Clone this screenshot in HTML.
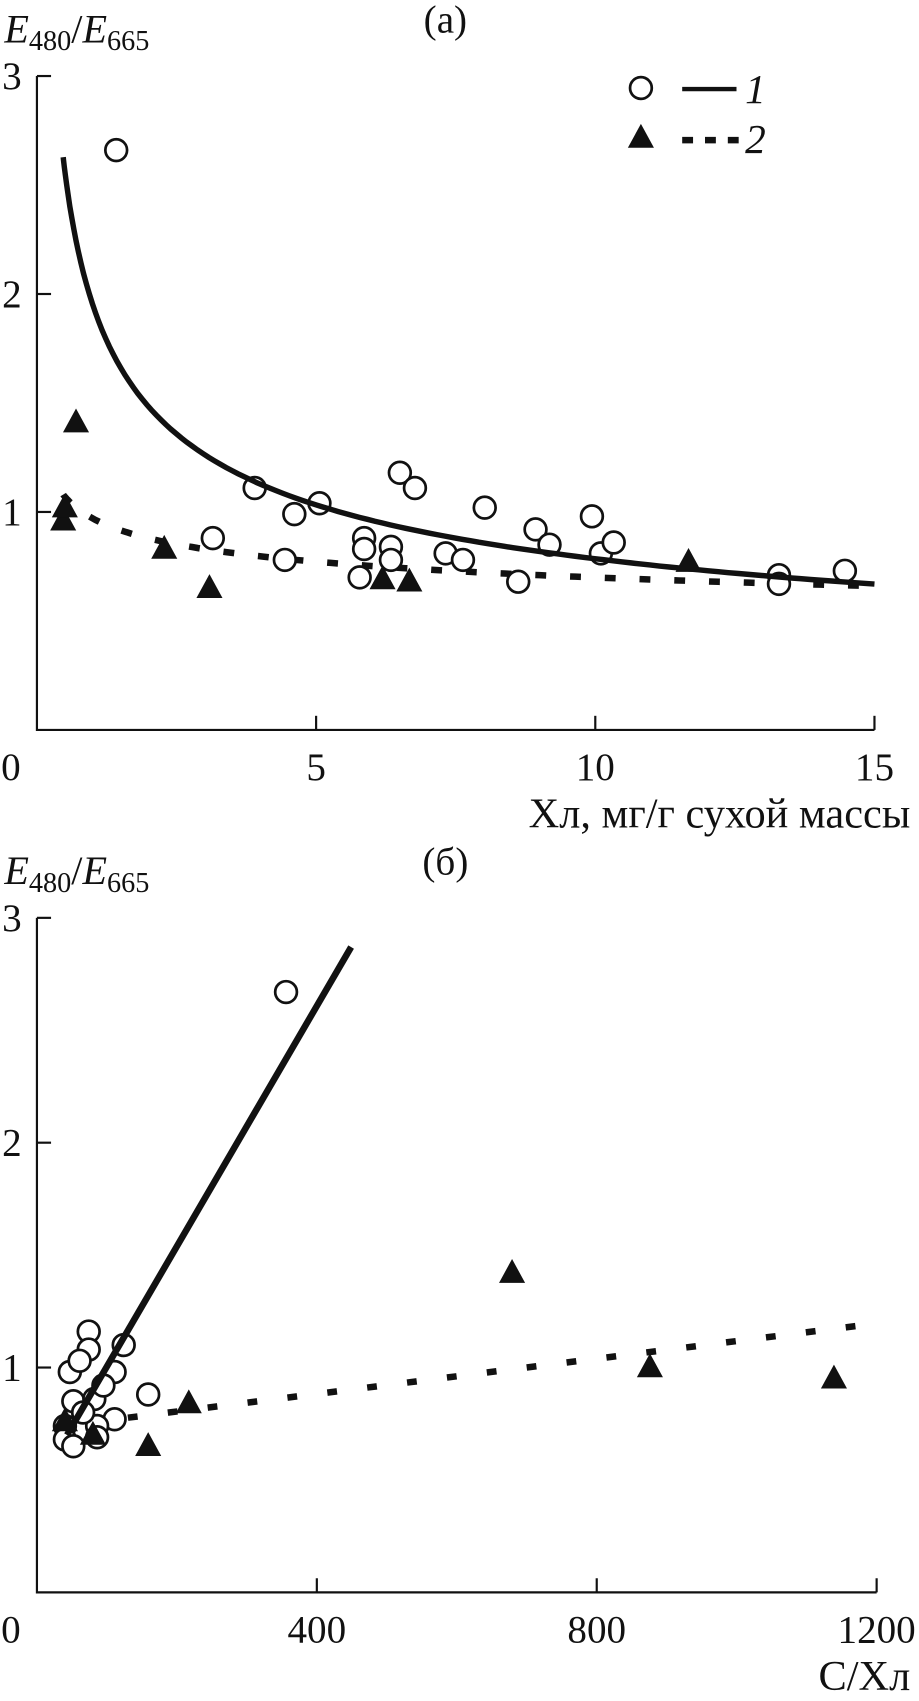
<!DOCTYPE html>
<html><head><meta charset="utf-8"><style>
html,body{margin:0;padding:0;background:#fff}
svg{display:block}
text{font-family:"Liberation Serif",serif;fill:#111}
</style></head><body>
<svg id="chart" width="919" height="1701" viewBox="0 0 846 1566" preserveAspectRatio="none" xmlns="http://www.w3.org/2000/svg">
<g id="pa"></g>
<g id="pb"></g>
</svg>
<script>
// Panel (a) data
const aCircX = [1.42,3.9,3.15,4.44,4.61,5.06,5.86,5.86,5.78,6.34,6.34,6.5,6.77,7.32,7.63,8.02,8.62,8.93,9.18,9.94,10.1,10.33,13.29,13.29,14.47];
const aCircY = [2.66,1.11,0.88,0.78,0.99,1.04,0.88,0.83,0.70,0.84,0.78,1.18,1.11,0.81,0.78,1.02,0.68,0.92,0.85,0.98,0.81,0.86,0.71,0.67,0.73];
const aTriX = [0.47,0.5,0.7,2.28,3.09,6.19,6.67,11.67];
const aTriY = [0.96,1.02,1.41,0.83,0.65,0.69,0.68,0.77];
const aFit1 = [1.95,-0.395]; // y = a*x^b
const aFit2 = [0.97,-0.142];
const aFitRange = [0.47,15];
const aXTicks = [0,5,10,15];
const aYTicks = [1,2,3];
// Panel (b) data
const bCircX = [356,74,74,124,47,61,111,52,82,159,111,40,86,40,52,86,66,95];
const bCircY = [2.67,1.16,1.08,1.10,0.98,1.03,0.98,0.85,0.86,0.88,0.77,0.74,0.74,0.68,0.65,0.69,0.80,0.92];
const bTriX = [40,80,159,217,679,876,1139];
const bTriY = [0.76,0.70,0.65,0.84,1.42,1.00,0.95];
const bLine1 = [43,0.70,449,2.87];
const bLine2 = [130,0.777,1200,1.196];
const bXTicks = [0,400,800,1200];
const bYTicks = [1,2,3];

const NS="http://www.w3.org/2000/svg";
function mk(tag,attrs,parent,txt){const e=document.createElementNS(NS,tag);for(const k in attrs)e.setAttribute(k,attrs[k]);if(txt!==undefined)e.textContent=txt;parent.appendChild(e);return e;}

function panel(g,o){
  const sx=v=>o.x0+(v-o.xmin)/(o.xmax-o.xmin)*(o.x1-o.x0);
  const sy=v=>o.y0-v/o.ymax*(o.y0-o.y1);
  const ax=mk('path',{d:`M${o.x0} ${sy(o.ymax)} V${o.y0} H${sx(o.xmax)}`,stroke:'#111','stroke-width':2,fill:'none'},g);
   
  o.yt.forEach(v=>{const t=mk('line',{x1:o.x0,x2:o.x0+13,y1:sy(v),y2:sy(v),stroke:'#111','stroke-width':2},g);
     
    const l=mk('text',{x:o.x0-23,y:sy(v)+12,'font-size':36,'text-anchor':'middle'},g,String(v));
     });
  o.xt.forEach(v=>{ if(v!==o.xmin){const t=mk('line',{x1:sx(v),x2:sx(v),y1:o.y0,y2:o.y0-13,stroke:'#111','stroke-width':2},g);
     }
    const l=mk('text',{x:v===o.xmin?10:sx(v),y:o.y0+46,'font-size':36,'text-anchor':'middle'},g,String(v));
     });
  const yl=mk('text',{x:4,y:o.y1-31,'font-size':37},g);
   
  yl.innerHTML='<tspan font-style="italic">E</tspan><tspan font-size="26" dy="7">480</tspan><tspan dy="-7">/</tspan><tspan font-style="italic">E</tspan><tspan font-size="26" dy="7">665</tspan>';
  const pt=mk('text',{x:410,y:o.y1-40,'font-size':36,'text-anchor':'middle'},g,o.label);
   
  const xt=mk('text',{x:838,y:o.y0+90,'font-size':39,'text-anchor':'end'},g,o.xtitle);
   
  return {sx,sy};
}
function circle(g,x,y){const c=mk('circle',{cx:x,cy:y,r:10,fill:'#fff',stroke:'#111','stroke-width':2.5},g);
   }
function tri(g,x,y){const t=mk('path',{d:`M${x} ${y-13} L${x+12} ${y+9} L${x-12} ${y+9}Z`,fill:'#111'},g);
   }

// Panel a
const ga=document.getElementById('pa');
const A=panel(ga,{x0:34,x1:805,xmin:0,xmax:15,y0:672,y1:70,ymax:3,xt:aXTicks,yt:aYTicks,label:'(a)',xtitle:'Хл, мг/г сухой массы'});
function fitPath(f,s){let d='';const n=120;for(let i=0;i<=n;i++){const x=aFitRange[0]+(aFitRange[1]-aFitRange[0])*Math.pow(i/n,1.6);const y=f[0]*Math.pow(x,f[1]);d+=(i?'L':'M')+s.sx(x).toFixed(1)+' '+s.sy(y).toFixed(1);}return d;}
const f2=mk('path',{d:fitPath(aFit2,A),stroke:'#111','stroke-width':6,fill:'none','stroke-dasharray':'10 22'},ga);
 
aCircX.forEach((x,i)=>circle(ga,A.sx(x),A.sy(aCircY[i])));
const f1=mk('path',{d:fitPath(aFit1,A),stroke:'#111','stroke-width':5,fill:'none'},ga);
 
aTriX.forEach((x,i)=>tri(ga,A.sx(x),A.sy(aTriY[i])));
// legend
const lg=mk('g',{},ga);  
circle(lg,590,81);
const l1=mk('line',{x1:628,x2:678,y1:82,y2:82,stroke:'#111','stroke-width':4},lg);
 
const t1=mk('text',{x:686,y:95,'font-size':38,'font-style':'italic'},lg,'1');
 
tri(lg,590,127);
const l2=mk('line',{x1:628,x2:680,y1:129,y2:129,stroke:'#111','stroke-width':6,'stroke-dasharray':'10 11'},lg);
 
const t2=mk('text',{x:686,y:141,'font-size':38,'font-style':'italic'},lg,'2');
 

// Panel b
const gb=document.getElementById('pb');
const B=panel(gb,{x0:34,x1:807,xmin:0,xmax:1200,y0:1466,y1:845,ymax:3,xt:bXTicks,yt:bYTicks,label:'(б)',xtitle:'С/Хл'});
const d2=mk('line',{x1:B.sx(bLine2[0]),y1:B.sy(bLine2[1]),x2:B.sx(bLine2[2]),y2:B.sy(bLine2[3]),stroke:'#111','stroke-width':6,'stroke-dasharray':'9 28'},gb);
 
bCircX.forEach((x,i)=>circle(gb,B.sx(x),B.sy(bCircY[i])));
const d1=mk('line',{x1:B.sx(bLine1[0]),y1:B.sy(bLine1[1]),x2:B.sx(bLine1[2]),y2:B.sy(bLine1[3]),stroke:'#111','stroke-width':6},gb);
 
bTriX.forEach((x,i)=>tri(gb,B.sx(x),B.sy(bTriY[i])));
</script>
</body></html>
